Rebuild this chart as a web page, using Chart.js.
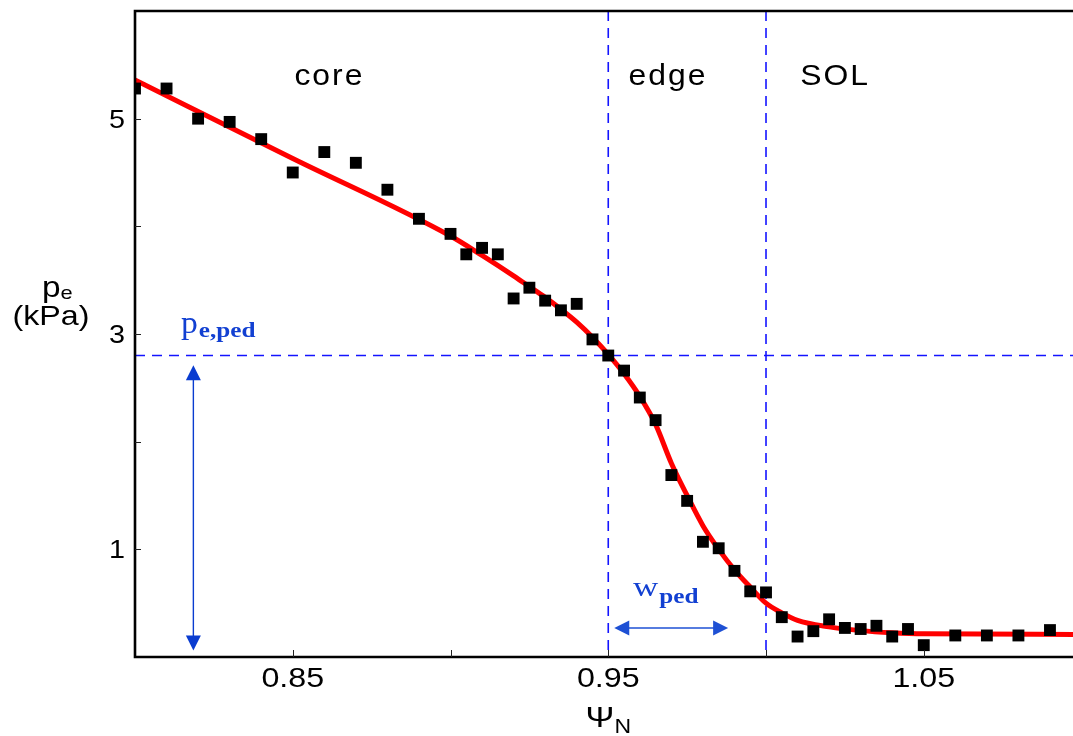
<!DOCTYPE html>
<html>
<head>
<meta charset="utf-8">
<script src="https://cdn.jsdelivr.net/npm/chart.js@4.4.0/dist/chart.umd.min.js"></script>
<style>
  html, body { margin: 0; padding: 0; background: #fff; }
  #wrap { width: 1073px; height: 736px; }
</style>
</head>
<body>
<div id="wrap"><canvas id="c" width="1073" height="736"></canvas></div>
<script>
// Measured electron pressure profile (psi_N, p_e in kPa)
const psiMeasured = [0.800, 0.810, 0.820, 0.830, 0.840, 0.850, 0.860, 0.870, 0.880, 0.890,
                     0.900, 0.905, 0.910, 0.915, 0.920, 0.925, 0.930, 0.935, 0.940, 0.945,
                     0.950, 0.955, 0.960, 0.965, 0.970, 0.975, 0.980, 0.985, 0.990, 0.995,
                     1.000, 1.005, 1.010, 1.015, 1.020, 1.025, 1.030, 1.035, 1.040, 1.045,
                     1.050, 1.060, 1.070, 1.080, 1.090];
const peMeasured  = [5.28, 5.28, 5.00, 4.97, 4.81, 4.50, 4.69, 4.59, 4.34, 4.07,
                     3.93, 3.74, 3.80, 3.74, 3.33, 3.43, 3.31, 3.22, 3.28, 2.95,
                     2.80, 2.66, 2.41, 2.20, 1.69, 1.45, 1.07, 1.01, 0.80, 0.61,
                     0.60, 0.37, 0.19, 0.24, 0.35, 0.27, 0.26, 0.29, 0.19, 0.26,
                     0.11, 0.20, 0.20, 0.20, 0.25];

// Fitted profile
const psiFit = [0.800, 0.850, 0.900, 0.910, 0.920, 0.925, 0.930, 0.935, 0.940, 0.945,
                0.950, 0.955, 0.960, 0.965, 0.970, 0.975, 0.980, 0.985, 0.990, 0.995,
                1.000, 1.005, 1.010, 1.020, 1.030, 1.040, 1.050, 1.0973];
const peFit  = [5.36, 4.63, 3.91, 3.73, 3.54, 3.44, 3.34, 3.23, 3.11, 2.97,
                2.81, 2.63, 2.42, 2.16, 1.80, 1.50, 1.22, 1.00, 0.81, 0.65,
                0.50, 0.41, 0.34, 0.28, 0.245, 0.225, 0.215, 0.21];

// Axis ticks
const xMajorTicks = [0.85, 0.95, 1.05];
const xMinorTicks = [0.90, 1.00];
const yMajorTicks = [1, 3, 5];
const yMinorTicks = [2, 4];

// Pedestal markers
const edgeBounds = [0.95, 1.00];
const pePed = 2.8;
const regionNames = ['core', 'edge', 'SOL'];
const regionPsi = [0.8613, 0.9686, 1.0216];
const regionPe = 5.31;
const pedArrowPsi = 0.8185;
const pedArrowPe = [0.06, 2.71];
const wpedArrowPe = 0.27;
const wpedArrowPsi = [0.9519, 0.9880];

const PSI_MIN = 0.80, PSI_MAX = 1.0973, PE_MIN = 0, PE_MAX = 6;

const SANS = '"Liberation Sans", Arial, sans-serif';
const SERIF = '"Liberation Serif", "Times New Roman", serif';
const SX = 1.15;  // horizontal text stretch
const BLUE_DASH = '#1414ff';
const BLUE_ANN = '#1240d2';

function drawText(ctx, str, x, y, opt) {
  ctx.save();
  ctx.font = opt.font;
  ctx.fillStyle = opt.color || '#000';
  ctx.letterSpacing = (opt.spacing || 0) + 'px';
  ctx.textBaseline = opt.baseline || 'alphabetic';
  ctx.textAlign = 'left';
  const sx = opt.sx || 1;
  const w = (ctx.measureText(str).width - (opt.spacing || 0)) * sx;
  let x0 = x;
  if (opt.align === 'center') x0 = x - w / 2;
  else if (opt.align === 'right') x0 = x - w;
  ctx.translate(x0, y);
  ctx.scale(sx, 1);
  ctx.fillText(str, 0, 0);
  ctx.restore();
  return x0 + w;
}

function arrowHead(ctx, x, y, ang, len, wid) {
  ctx.beginPath();
  ctx.moveTo(x, y);
  ctx.lineTo(x - len * Math.cos(ang) + (wid / 2) * Math.sin(ang),
             y - len * Math.sin(ang) - (wid / 2) * Math.cos(ang));
  ctx.lineTo(x - len * Math.cos(ang) - (wid / 2) * Math.sin(ang),
             y - len * Math.sin(ang) + (wid / 2) * Math.cos(ang));
  ctx.closePath();
  ctx.fill();
}

function doubleArrow(ctx, x1, y1, x2, y2, color, lw) {
  const ang = Math.atan2(y2 - y1, x2 - x1);
  const len = 15, wid = 15;
  ctx.save();
  ctx.strokeStyle = color;
  ctx.fillStyle = color;
  ctx.lineWidth = lw;
  ctx.beginPath();
  ctx.moveTo(x1 + Math.cos(ang) * len * 0.5, y1 + Math.sin(ang) * len * 0.5);
  ctx.lineTo(x2 - Math.cos(ang) * len * 0.5, y2 - Math.sin(ang) * len * 0.5);
  ctx.stroke();
  arrowHead(ctx, x2, y2, ang, len, wid);
  arrowHead(ctx, x1, y1, ang + Math.PI, len, wid);
  ctx.restore();
}

const annotations = {
  id: 'annotations',
  afterDraw(chart) {
    const ctx = chart.ctx;
    const xs = chart.scales.x, ys = chart.scales.y;
    const a = chart.chartArea;

    // frame
    ctx.save();
    ctx.strokeStyle = '#000';
    ctx.lineWidth = 2.6;
    ctx.beginPath();
    ctx.moveTo(a.right + 2, a.top);
    ctx.lineTo(a.left, a.top);
    ctx.lineTo(a.left, a.bottom);
    ctx.lineTo(a.right + 2, a.bottom);
    ctx.stroke();

    // tick marks (inward)
    ctx.lineWidth = 1;
    ctx.strokeStyle = '#222';
    ctx.beginPath();
    [...xMajorTicks, ...xMinorTicks].forEach(v => {
      const px = Math.round(xs.getPixelForValue(v)) + 0.5;
      ctx.moveTo(px, a.bottom);
      ctx.lineTo(px, a.bottom - 7);
    });
    [...yMajorTicks, ...yMinorTicks].forEach(v => {
      const py = Math.round(ys.getPixelForValue(v)) + 0.5;
      ctx.moveTo(a.left, py);
      ctx.lineTo(a.left + 6, py);
    });
    ctx.stroke();
    ctx.restore();

    // tick labels
    xMajorTicks.forEach(v => {
      drawText(ctx, v.toFixed(2), xs.getPixelForValue(v), a.bottom + 30,
               { font: '28px ' + SANS, align: 'center', sx: SX });
    });
    yMajorTicks.forEach(v => {
      drawText(ctx, String(v), a.left - 10, ys.getPixelForValue(v) + 9,
               { font: '25px ' + SANS, align: 'right', sx: SX });
    });

    // axis titles
    let xe = drawText(ctx, 'Ψ', 600, 727, { font: '30px ' + SANS, align: 'center', sx: SX });
    drawText(ctx, 'N', xe, 733, { font: '20px ' + SANS, sx: SX });
    xe = drawText(ctx, 'p', 42, 297, { font: '29px ' + SANS, sx: SX });
    drawText(ctx, 'e', xe, 299, { font: '19px ' + SANS, sx: SX });
    drawText(ctx, '(kPa)', 51, 325, { font: '28px ' + SANS, align: 'center', sx: SX });

    // region names
    regionNames.forEach((name, i) => {
      drawText(ctx, name, xs.getPixelForValue(regionPsi[i]), ys.getPixelForValue(regionPe),
               { font: '29px ' + SANS, align: 'center', sx: 1.1, spacing: 1.8 });
    });

    // pedestal height arrow and label
    const ax = xs.getPixelForValue(pedArrowPsi);
    doubleArrow(ctx, ax, ys.getPixelForValue(pedArrowPe[0]), ax, ys.getPixelForValue(pedArrowPe[1]),
                '#0a3cd0', 1.4);
    xe = drawText(ctx, 'p', 181, 333, { font: '32px ' + SERIF, color: BLUE_ANN, sx: 1.05 });
    drawText(ctx, 'e,ped', xe + 1, 337, { font: 'bold 21px ' + SERIF, color: BLUE_ANN, sx: 1.2 });

    // pedestal width arrow and label
    const wy = ys.getPixelForValue(wpedArrowPe);
    doubleArrow(ctx, xs.getPixelForValue(wpedArrowPsi[0]), wy, xs.getPixelForValue(wpedArrowPsi[1]), wy,
                '#1e50d4', 1.6);
    xe = drawText(ctx, 'w', 633, 596, { font: '28px ' + SERIF, color: BLUE_ANN, sx: 1.25 });
    drawText(ctx, 'ped', xe + 1, 603, { font: 'bold 21px ' + SERIF, color: BLUE_ANN, sx: 1.2 });
  }
};

const measured = psiMeasured.map((x, i) => ({ x, y: peMeasured[i] }));
const fit = psiFit.map((x, i) => ({ x, y: peFit[i] }));
const dashStyle = {
  showLine: true, borderColor: BLUE_DASH, borderWidth: 1.6, borderDash: [10, 7],
  pointRadius: 0, fill: false, order: 3, clip: 0
};

new Chart(document.getElementById('c'), {
  type: 'scatter',
  data: {
    datasets: [
      {
        label: 'measured',
        data: measured,
        pointStyle: 'rect',
        pointRadius: 8.4,
        backgroundColor: '#000',
        borderWidth: 0,
        order: 1,
        clip: 0
      },
      {
        label: 'fit',
        data: fit,
        showLine: true,
        borderColor: '#ff0000',
        borderWidth: 5,
        pointRadius: 0,
        cubicInterpolationMode: 'monotone',
        fill: false,
        order: 2,
        clip: 0
      },
      Object.assign({ label: 'inner', data: [{ x: edgeBounds[0], y: PE_MAX }, { x: edgeBounds[0], y: PE_MIN }] }, dashStyle),
      Object.assign({ label: 'separatrix', data: [{ x: edgeBounds[1], y: PE_MAX }, { x: edgeBounds[1], y: PE_MIN }] }, dashStyle),
      Object.assign({ label: 'pedestal', data: [{ x: PSI_MIN, y: pePed }, { x: PSI_MAX, y: pePed }] }, dashStyle)
    ]
  },
  options: {
    responsive: false,
    animation: false,
    devicePixelRatio: 1,
    layout: { autoPadding: false, padding: { left: 135, top: 11, right: 0, bottom: 79 } },
    plugins: { legend: { display: false }, tooltip: { enabled: false } },
    scales: {
      x: { type: 'linear', min: PSI_MIN, max: PSI_MAX, display: false },
      y: { type: 'linear', min: PE_MIN, max: PE_MAX, display: false }
    }
  },
  plugins: [annotations]
});
</script>
</body>
</html>
